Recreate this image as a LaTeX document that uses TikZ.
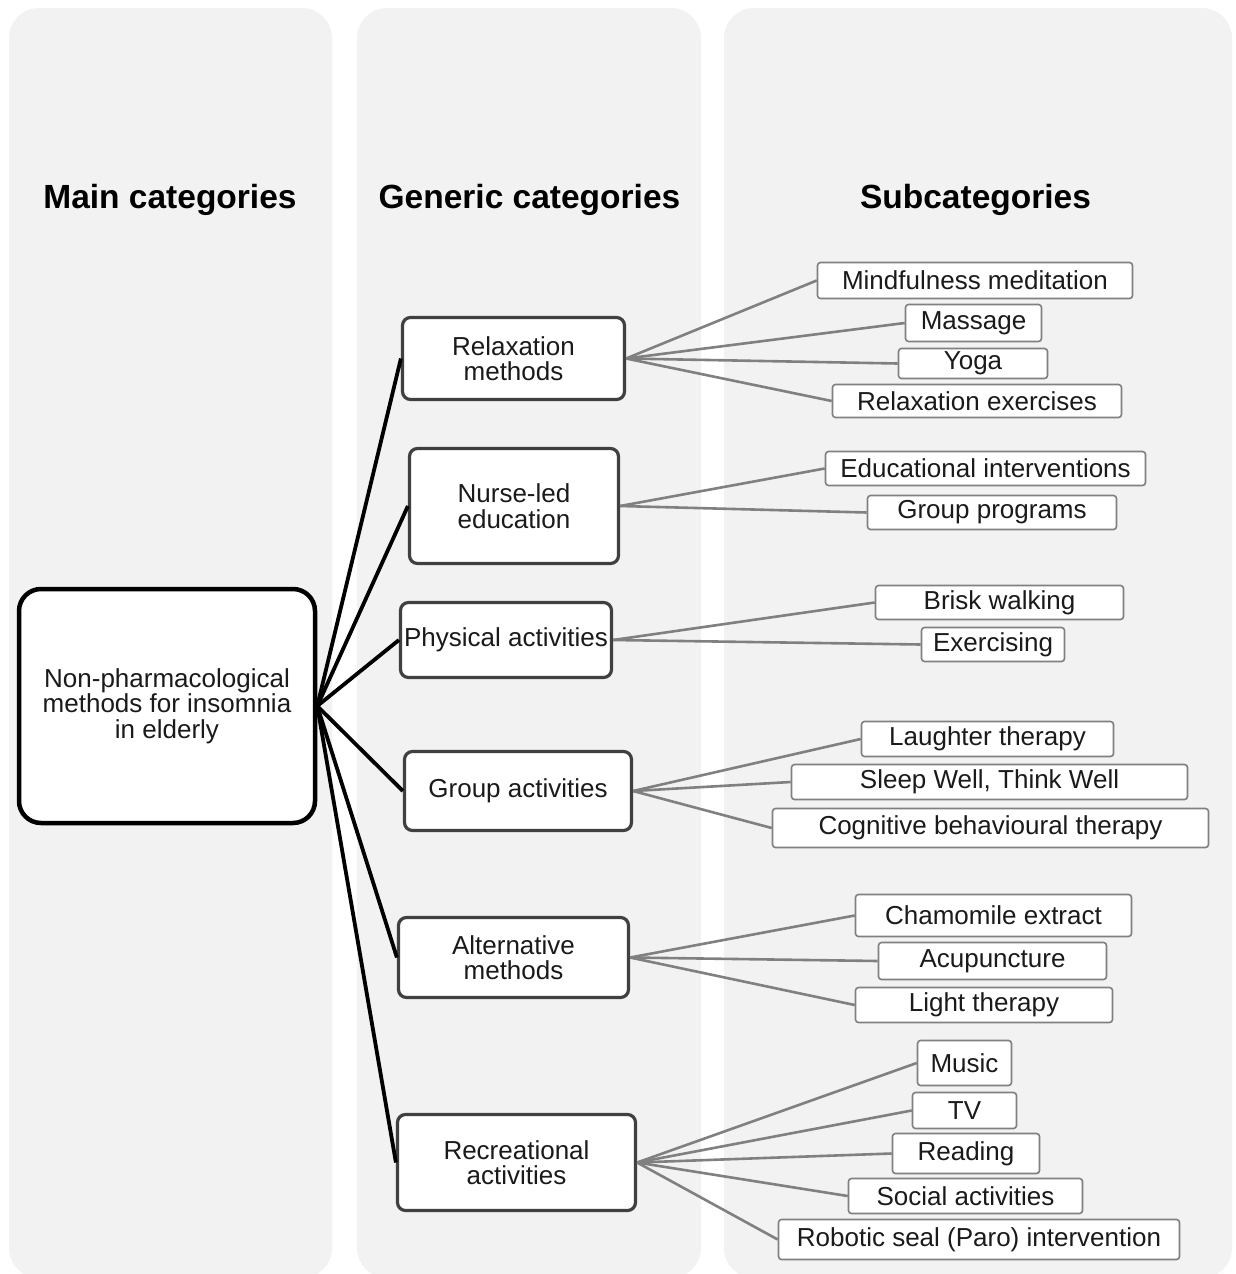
\documentclass[tikz,border=0pt]{standalone}
\usepackage{fontspec}
\setmainfont{Liberation Sans}
\definecolor{panelgray}{HTML}{F2F2F2}
\definecolor{gendark}{HTML}{404040}
\definecolor{subgray}{HTML}{808080}
\definecolor{txt}{HTML}{1A1A1A}
\newcommand{\bodyfont}{\fontsize{26}{25.5}\selectfont}
\newcommand{\headfont}{\fontsize{33.5}{36}\selectfont\bfseries}
\tikzset{
  panel/.style={fill=panelgray, draw=none, rounded corners=30pt},
  hdr/.style={font=\headfont, text=black, anchor=base, inner sep=0},
  mainbox/.style={draw=black, line width=4.5pt, fill=white, rounded corners=22pt,
    align=center, inner sep=0, font=\bodyfont, text=txt},
  genbox/.style={draw=gendark, line width=3.2pt, fill=white, rounded corners=8pt,
    align=center, inner sep=0, font=\bodyfont, text=txt},
  subbox/.style={draw=subgray, line width=1.6pt, fill=white, rounded corners=3pt,
    inner sep=0, font=\bodyfont, text=txt},
  mainlink/.style={line width=3.8pt, draw=black},
  sublink/.style={line width=2.6pt, draw=subgray},
}
\begin{document}
\begin{tikzpicture}[x=1pt,y=-1pt]
\useasboundingbox (0,0) rectangle (1235,1274);
% panels
\fill[panel] (9,8) rectangle (332,1278);
\fill[panel] (357,8) rectangle (701,1278);
\fill[panel] (724,8) rectangle (1232,1278);
% headers
\node[hdr] (h1) at (170,208) {Main categories};
\node[hdr] (h2) at (529.5,208) {Generic categories};
\node[hdr] (h3) at (975.5,208) {Subcategories};
% main node
\node[mainbox, minimum width=296, minimum height=234] (main) at (167,706)
  {Non-pharmacological\\methods for insomnia\\in elderly};
% generic nodes
\node[genbox, minimum width=222, minimum height=82] (rel) at (513.5,358.5) {Relaxation\\methods};
\node[genbox, minimum width=209, minimum height=115] (nur) at (514,506) {Nurse-led\\education};
\node[genbox, minimum width=211, minimum height=75] (phy) at (506,640) {Physical activities};
\node[genbox, minimum width=227, minimum height=79] (grp) at (518,791) {Group activities};
\node[genbox, minimum width=230, minimum height=80] (alt) at (513.5,957.5) {Alternative\\methods};
\node[genbox, minimum width=238, minimum height=96] (rec) at (516.5,1162.5) {Recreational\\activities};
% subcategory nodes
\node[subbox, minimum width=315, minimum height=36] (m1) at (975,280.5) {Mindfulness meditation};
\node[subbox, minimum width=136, minimum height=37] (m2) at (973.5,323) {Massage};
\node[subbox, minimum width=149, minimum height=30] (m3) at (973,363.5) {Yoga};
\node[subbox, minimum width=289, minimum height=33] (m4) at (977,401) {Relaxation exercises};
\node[subbox, minimum width=320, minimum height=34] (e1) at (985.5,468.5) {Educational interventions};
\node[subbox, minimum width=249, minimum height=34] (e2) at (992,512.5) {Group programs};
\node[subbox, minimum width=248, minimum height=34] (p1) at (999.5,602.5) {Brisk walking};
\node[subbox, minimum width=143, minimum height=34] (p2) at (993,644.5) {Exercising};
\node[subbox, minimum width=252, minimum height=35] (g1) at (987.5,739) {Laughter therapy};
\node[subbox, minimum width=396, minimum height=35] (g2) at (989.5,782) {Sleep Well, Think Well};
\node[subbox, minimum width=436, minimum height=39] (g3) at (990.5,828) {Cognitive behavioural therapy};
\node[subbox, minimum width=276, minimum height=42] (a1) at (993.5,915.5) {Chamomile extract};
\node[subbox, minimum width=228, minimum height=37] (a2) at (992.5,961) {Acupuncture};
\node[subbox, minimum width=257, minimum height=35] (a3) at (984,1005) {Light therapy};
\node[subbox, minimum width=94, minimum height=45] (r1) at (964.5,1063) {Music};
\node[subbox, minimum width=104, minimum height=36] (r2) at (964.5,1110.5) {TV};
\node[subbox, minimum width=147, minimum height=40] (r3) at (966,1153.5) {Reading};
\node[subbox, minimum width=234, minimum height=35] (r4) at (965.5,1196) {Social activities};
\node[subbox, minimum width=401, minimum height=40] (r5) at (979,1239.5) {Robotic seal (Paro) intervention};
% main connectors
\foreach \g in {rel,nur,phy,grp,alt,rec}
  \draw[mainlink] (main.east) -- (\g.west);
% sub connectors
\foreach \s in {m1,m2,m3,m4} \draw[sublink] (rel.east) -- (\s.west);
\foreach \s in {e1,e2} \draw[sublink] (nur.east) -- (\s.west);
\foreach \s in {p1,p2} \draw[sublink] (phy.east) -- (\s.west);
\foreach \s in {g1,g2,g3} \draw[sublink] (grp.east) -- (\s.west);
\foreach \s in {a1,a2,a3} \draw[sublink] (alt.east) -- (\s.west);
\foreach \s in {r1,r2,r3,r4,r5} \draw[sublink] (rec.east) -- (\s.west);
\end{tikzpicture}
\end{document}
